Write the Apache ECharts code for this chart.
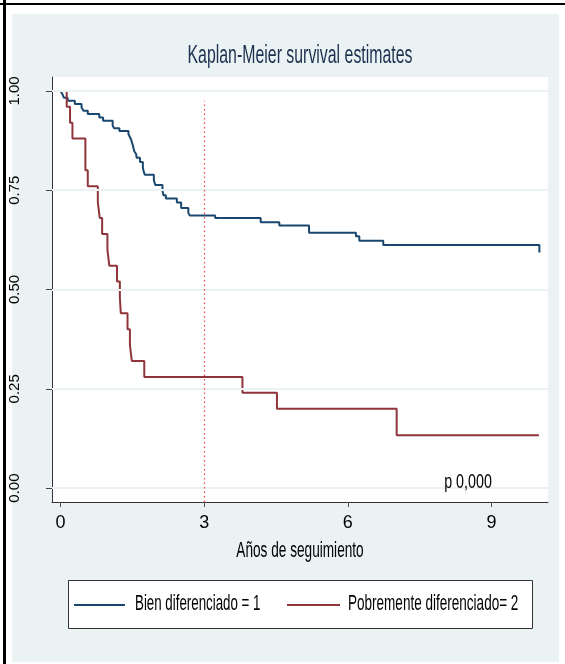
<!DOCTYPE html>
<html>
<head>
<meta charset="utf-8">
<script src="https://cdn.jsdelivr.net/npm/echarts@6/dist/echarts.min.js"></script>
<style>
html,body{margin:0;padding:0;background:#fff;}
#chart{width:565px;height:664px;}
</style>
</head>
<body>
<div id="chart"></div>
<script>
// ---- data ----
const titleText = 'Kaplan-Meier survival estimates';
const xAxisName = 'Años de seguimiento';
const seriesNames = ['Bien diferenciado = 1', 'Pobremente diferenciado= 2'];
const xTicks = [0, 3, 6, 9];
const yTicks = [0, 0.25, 0.5, 0.75, 1];
const pText = 'p 0,000';
const pNoteAt = [8.51, 0.014];
const refLineX = 3;

const bienTime = [0, 0.04, 0.07, 0.15, 0.30, 0.44, 0.48, 0.57, 0.81, 0.89, 1.09, 1.12, 1.23, 1.42, 1.45, 1.48, 1.51, 1.54, 1.58, 1.59, 1.66, 1.72, 1.74, 1.76, 1.95, 1.98, 2.13, 2.15, 2.20, 2.43, 2.52, 2.67, 2.70, 3.23, 4.18, 4.57, 5.19, 6.17, 6.24, 6.74, 10.0];
const bienSurv = [1, 0.992, 0.983, 0.975, 0.967, 0.958, 0.950, 0.942, 0.933, 0.925, 0.912, 0.906, 0.899, 0.891, 0.884, 0.876, 0.863, 0.848, 0.841, 0.832, 0.821, 0.807, 0.796, 0.789, 0.775, 0.763, 0.750, 0.737, 0.729, 0.719, 0.705, 0.693, 0.686, 0.680, 0.669, 0.661, 0.643, 0.634, 0.623, 0.612, 0.593];

const pobreTime = [0, 0.13, 0.20, 0.25, 0.52, 0.57, 0.78, 0.82, 0.87, 0.98, 1.02, 1.18, 1.24, 1.26, 1.40, 1.45, 1.49, 1.75, 3.80, 4.52, 7.02, 9.99];
const pobreSurv = [1, 0.96, 0.92, 0.88, 0.80, 0.76, 0.72, 0.68, 0.64, 0.60, 0.56, 0.52, 0.48, 0.44, 0.40, 0.36, 0.32, 0.28, 0.24, 0.20, 0.1333, 0.1333];

// ---- chart ----
const FONT = "'Liberation Sans', Arial, sans-serif";
const BLUE = '#1a476f';
const RED = '#90353b';
const BG = '#eaf2f3';
const NARROW = 0.62;   // the reference's text is strongly condensed

const zip = (a, b) => a.map((v, i) => [v, b[i]]);

const chart = echarts.init(document.getElementById('chart'), null, {renderer: 'canvas'});
chart.setOption({
  backgroundColor: '#ffffff',
  animation: false,
  grid: {
    left: 52, right: 17, top: 77, bottom: 162,
    show: true, backgroundColor: '#ffffff', borderWidth: 0
  },
  xAxis: {
    type: 'value',
    min: -0.177, max: 10.18,
    axisLine: {onZero: false, lineStyle: {color: '#333', width: 1}},
    axisTick: {show: true, length: 5, customValues: xTicks, lineStyle: {color: '#555', width: 1}},
    axisLabel: {customValues: xTicks, margin: 12, fontFamily: FONT, fontSize: 18, color: '#000'},
    splitLine: {show: false}
  },
  yAxis: {
    type: 'value',
    min: -0.035, max: 1.035,
    axisLine: {show: true, onZero: false, lineStyle: {color: '#333', width: 1}},
    axisTick: {show: true, length: 6, customValues: yTicks, lineStyle: {color: '#444', width: 1}},
    axisLabel: {customValues: yTicks, rotate: 90, margin: 30, fontFamily: FONT, fontSize: 15, color: '#000',
      formatter: v => v.toFixed(2)},
    splitLine: {show: false}
  },
  series: [
    {
      name: 'grid', type: 'line', data: [], z: 1, silent: true,
      markLine: {
        silent: true, symbol: 'none', label: {show: false},
        lineStyle: {color: BG, width: 2, type: 'solid'},
        data: yTicks.map(v => ({yAxis: v}))
      }
    },
    {
      name: 'ref', type: 'line', data: [], z: 2, silent: true,
      markLine: {
        silent: true, symbol: 'none', label: {show: false},
        lineStyle: {color: '#ff3030', width: 1.2, type: [1.5, 3], opacity: 0.9},
        data: [[{coord: [refLineX, -0.035]}, {coord: [refLineX, 0.975]}]]
      }
    },
    {
      name: seriesNames[0], type: 'line', step: 'end', symbol: 'none', z: 3,
      color: BLUE, lineStyle: {width: 2, color: BLUE},
      data: zip(bienTime, bienSurv)
    },
    {
      name: seriesNames[1], type: 'line', step: 'end', symbol: 'none', z: 3,
      color: RED, lineStyle: {width: 2, color: RED},
      data: zip(pobreTime, pobreSurv)
    }
  ]
});

const pPos = chart.convertToPixel({gridIndex: 0}, pNoteAt);
const narrowText = (id, text, x, y, size, align, color, sx) => ({
  id, type: 'text', x, y, scaleX: sx, z: 50,
  style: {text, x: 0, y: 0, fontFamily: FONT, fontSize: size, fill: color,
    textAlign: align, textVerticalAlign: 'middle'}
});

chart.setOption({
  graphic: [
    {id: 'bg', type: 'rect', z: -10, shape: {x: 12, y: 14, width: 547, height: 648}, style: {fill: BG}},
    {id: 'bl', type: 'rect', z: 100, shape: {x: 3, y: 0, width: 3, height: 664}, style: {fill: '#000'}},
    {id: 'bt', type: 'rect', z: 100, shape: {x: 0, y: 3, width: 565, height: 2}, style: {fill: '#000'}},
    narrowText('title', titleText, 300, 56, 25, 'center', '#1c3150', 0.635),
    narrowText('xname', xAxisName, 300, 551, 22, 'center', '#000', NARROW),
    narrowText('pnote', pText, pPos[0], pPos[1], 21, 'center', '#000', 0.68),
    // legend
    {id: 'lgbox', type: 'rect', z: 40, shape: {x: 68.5, y: 580.5, width: 464, height: 48},
      style: {fill: '#fff', stroke: '#333', lineWidth: 1}},
    {id: 'lg1', type: 'line', z: 45, shape: {x1: 74, y1: 605, x2: 125, y2: 605}, style: {stroke: BLUE, lineWidth: 2}},
    narrowText('lt1', seriesNames[0], 135, 604, 22, 'left', '#000', 0.605),
    {id: 'lg2', type: 'line', z: 45, shape: {x1: 287, y1: 605, x2: 340, y2: 605}, style: {stroke: RED, lineWidth: 2}},
    narrowText('lt2', seriesNames[1], 348, 604, 22, 'left', '#000', 0.615)
  ]
});
</script>
</body>
</html>
